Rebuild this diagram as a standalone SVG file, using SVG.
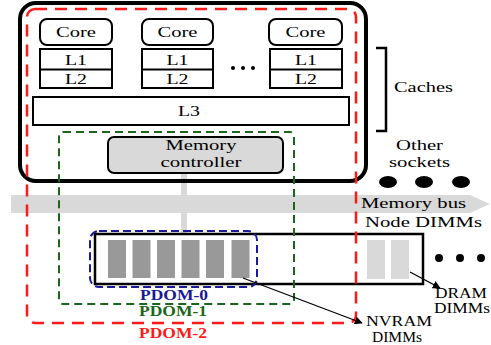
<svg xmlns="http://www.w3.org/2000/svg" width="491" height="345" viewBox="0 0 491 345">
<defs>
<style>
text{font-family:"Liberation Serif","DejaVu Serif",serif;font-size:15px;fill:#000}
.c{text-anchor:middle}
.box{fill:#fff;stroke:#000;stroke-width:2}
.pd{font-weight:bold;font-size:14px}
.nv{fill:#999}
.dr{fill:#d9d9d9}
.conn{stroke:#000;stroke-width:1.3;fill:none;marker-end:url(#arr)}
</style>
<marker id="arr" viewBox="0 0 10 10" refX="9" refY="5" markerWidth="8" markerHeight="8" orient="auto" markerUnits="userSpaceOnUse">
<path d="M0,0 L10,5 L0,10 z" fill="#000"/>
</marker>
</defs>
<rect width="491" height="345" fill="#fff"/>

<g id="bus">
<rect x="181" y="173" width="6" height="61" fill="#d9d9d9"/>
<rect x="11" y="195" width="459" height="18" fill="#d9d9d9"/>
<polygon points="470,195 490,204 470,213" fill="#d9d9d9"/>
<text x="361" y="208" textLength="105" lengthAdjust="spacingAndGlyphs">Memory bus</text>
</g>

<g id="socket">
<rect x="20" y="3" width="346" height="178" rx="16" fill="none" stroke="#000" stroke-width="4"/>
</g>

<g id="core1">
<rect class="box" x="40" y="19" width="72" height="26" rx="7"/>
<text class="c" x="76" y="37" textLength="40" lengthAdjust="spacingAndGlyphs">Core</text>
</g>
<g id="core2">
<rect class="box" x="142" y="19" width="71" height="26" rx="7"/>
<text class="c" x="177.5" y="37" textLength="40" lengthAdjust="spacingAndGlyphs">Core</text>
</g>
<g id="core3">
<rect class="box" x="269" y="19" width="73" height="26" rx="7"/>
<text class="c" x="305.5" y="37" textLength="40" lengthAdjust="spacingAndGlyphs">Core</text>
</g>

<g id="cache1">
<rect class="box" x="40" y="49" width="72" height="39"/>
<line x1="40" y1="69.5" x2="112" y2="69.5" stroke="#000" stroke-width="2"/>
<text class="c" x="76" y="65" textLength="22" lengthAdjust="spacingAndGlyphs">L1</text>
<text class="c" x="76" y="84" textLength="22" lengthAdjust="spacingAndGlyphs">L2</text>
</g>
<g id="cache2">
<rect class="box" x="142" y="49" width="71" height="39"/>
<line x1="142" y1="69.5" x2="213" y2="69.5" stroke="#000" stroke-width="2"/>
<text class="c" x="177.5" y="65" textLength="22" lengthAdjust="spacingAndGlyphs">L1</text>
<text class="c" x="177.5" y="84" textLength="22" lengthAdjust="spacingAndGlyphs">L2</text>
</g>
<g id="cache3">
<rect class="box" x="270" y="49" width="72" height="39"/>
<line x1="270" y1="69.5" x2="342" y2="69.5" stroke="#000" stroke-width="2"/>
<text class="c" x="306" y="65" textLength="22" lengthAdjust="spacingAndGlyphs">L1</text>
<text class="c" x="306" y="84" textLength="22" lengthAdjust="spacingAndGlyphs">L2</text>
</g>
<g id="coredots" fill="#000">
<circle cx="233" cy="68" r="2"/>
<circle cx="243" cy="68" r="2"/>
<circle cx="253" cy="68" r="2"/>
</g>

<g id="l3">
<rect class="box" x="33" y="97" width="316" height="28"/>
<text class="c" x="189" y="116" textLength="22" lengthAdjust="spacingAndGlyphs">L3</text>
</g>

<g id="memctrl">
<rect x="108" y="137" width="175" height="36" rx="6" fill="#d9d9d9" stroke="#000" stroke-width="2"/>
<text class="c" x="201" y="150" textLength="71" lengthAdjust="spacingAndGlyphs">Memory</text>
<text class="c" x="201" y="167" textLength="81" lengthAdjust="spacingAndGlyphs">controller</text>
</g>

<g id="caches">
<path d="M376,48 H386 V131 H376" fill="none" stroke="#000" stroke-width="2.5"/>
<text x="394" y="92" textLength="59" lengthAdjust="spacingAndGlyphs">Caches</text>
</g>

<g id="othersockets">
<text x="396" y="150" textLength="47" lengthAdjust="spacingAndGlyphs">Other</text>
<text x="389" y="167" textLength="61" lengthAdjust="spacingAndGlyphs">sockets</text>
<ellipse cx="388" cy="182" rx="9" ry="6" fill="#000"/>
<ellipse cx="424" cy="182" rx="9" ry="6" fill="#000"/>
<ellipse cx="461" cy="182" rx="9" ry="6" fill="#000"/>
</g>

<g id="nodedimms">
<rect x="95" y="234" width="328" height="50" fill="#fff" stroke="#000" stroke-width="2.5"/>
<text x="365" y="227" textLength="117" lengthAdjust="spacingAndGlyphs">Node DIMMs</text>
<rect class="nv" x="108" y="240" width="18" height="38"/>
<rect class="nv" x="132.5" y="240" width="18" height="38"/>
<rect class="nv" x="157" y="240" width="18" height="38"/>
<rect class="nv" x="181.5" y="240" width="18" height="38"/>
<rect class="nv" x="206" y="240" width="18" height="38"/>
<rect class="nv" x="231.5" y="240" width="18" height="38"/>
<rect class="dr" x="367" y="240" width="18" height="39"/>
<rect class="dr" x="391" y="240" width="18" height="39"/>
<circle cx="439" cy="258" r="4" fill="#000"/>
<circle cx="460" cy="258" r="4" fill="#000"/>
<circle cx="481" cy="258" r="4" fill="#000"/>
</g>

<g id="pdom0">
<rect x="90" y="231" width="167" height="56" rx="9" fill="none" stroke="#1a1a99" stroke-width="2" stroke-dasharray="8 4"/>
<text class="c pd" x="174" y="300" style="fill:#1a1a99" textLength="68" lengthAdjust="spacingAndGlyphs">PDOM-0</text>
</g>
<g id="pdom1">
<rect x="59" y="132" width="235" height="172" rx="4" fill="none" stroke="#1a661a" stroke-width="2" stroke-dasharray="8 5"/>
<text class="c pd" x="173" y="316" style="fill:#1a661a" textLength="68" lengthAdjust="spacingAndGlyphs">PDOM-1</text>
</g>
<g id="pdom2">
<rect x="27" y="9" width="329" height="314" rx="8" fill="none" stroke="#ff1a1a" stroke-width="2.5" stroke-dasharray="12 8"/>
<text class="c pd" x="173" y="338" style="fill:#ff1a1a" textLength="68" lengthAdjust="spacingAndGlyphs">PDOM-2</text>
</g>

<g id="labels">
<text class="c" x="461" y="298" textLength="52" lengthAdjust="spacingAndGlyphs">DRAM</text>
<text class="c" x="462" y="313" textLength="56" lengthAdjust="spacingAndGlyphs">DIMMs</text>
<text class="c" x="399" y="326" textLength="66" lengthAdjust="spacingAndGlyphs">NVRAM</text>
<text class="c" x="397" y="342" textLength="50" lengthAdjust="spacingAndGlyphs">DIMMs</text>
</g>

<g id="connectors">
<line class="conn" x1="410" y1="272" x2="440" y2="288"/>
<line class="conn" x1="243" y1="278" x2="362" y2="323"/>
</g>
</svg>
